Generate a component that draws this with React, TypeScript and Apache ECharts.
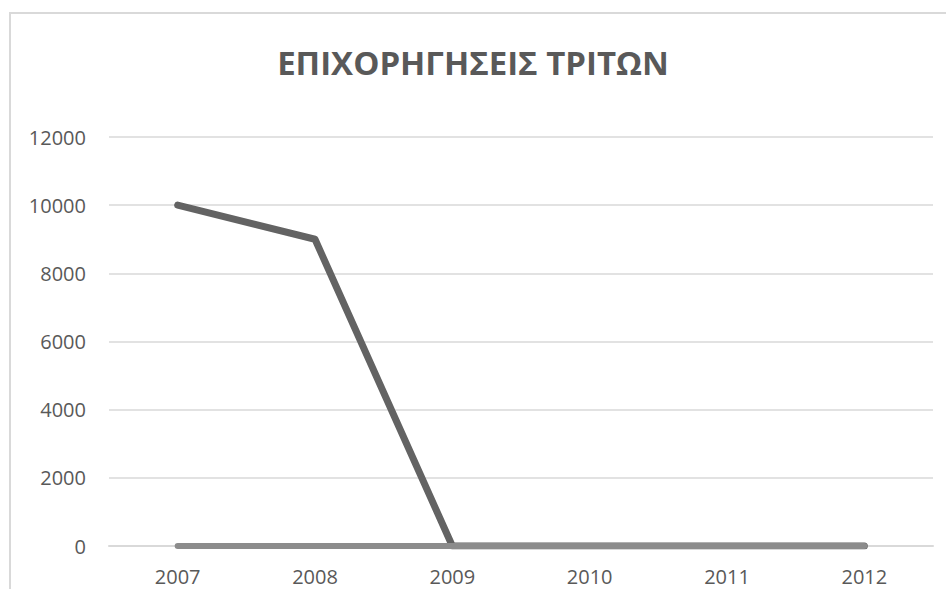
import React, { useEffect, useRef } from "react";
import * as echarts from "echarts";

const title = "ΕΠΙΧΟΡΗΓΗΣΕΙΣ ΤΡΙΤΩΝ";
const categories = ["2007", "2008", "2009", "2010", "2011", "2012"];
const seriesA = [10000, 9000, 0, 0, 0, 0];
const seriesB = [0, 0, 0, 0, 0, 0];
const yMin = 0;
const yMax = 12000;
const yStep = 2000;

export default function App() {
  const ref = useRef<HTMLDivElement>(null);
  useEffect(() => {
    document.body.style.margin = "0";
    const chart = echarts.init(ref.current!, null, { renderer: "svg" });
    const font = "'Open Sans', 'Liberation Sans', sans-serif";
    chart.setOption({
      animation: false,
      backgroundColor: "#ffffff",
      title: {
        text: title,
        left: "center",
        top: 41,
        textStyle: { fontFamily: font, fontSize: 33, fontWeight: "bold", color: "#595959" },
      },
      graphic: [
        {
          type: "rect",
          shape: { x: 10, y: 13, width: 1000, height: 1000 },
          style: { fill: "none", stroke: "#d9d9d9", lineWidth: 2 },
          silent: true,
        },
      ],
      grid: { left: 109, right: 13, top: 137, bottom: 43 },
      xAxis: {
        type: "category",
        data: categories,
        boundaryGap: true,
        axisLine: { show: true, lineStyle: { color: "#d9d9d9", width: 2 } },
        axisTick: { show: false },
        axisLabel: { color: "#595959", fontSize: 20, fontFamily: font, margin: 20 },
      },
      yAxis: {
        type: "value",
        min: yMin,
        max: yMax,
        interval: yStep,
        axisLine: { show: false },
        axisTick: { show: false },
        splitLine: { lineStyle: { color: "#d9d9d9", width: 1.5 } },
        axisLabel: {
          color: "#595959",
          fontSize: 20,
          fontFamily: font,
          margin: 23,
          formatter: (v: number) => String(v),
        },
      },
      series: [
        {
          type: "line",
          data: seriesA,
          symbol: "none",
          lineStyle: { color: "#636363", width: 7, cap: "round", join: "round" },
          z: 2,
        },
        {
          type: "line",
          data: seriesB,
          symbol: "none",
          lineStyle: { color: "#8c8c8c", width: 6, cap: "round", join: "round" },
          z: 3,
        },
      ],
    });
    return () => chart.dispose();
  }, []);
  return (
    <div
      ref={ref}
      style={{ position: "fixed", left: 0, top: 0, width: 946, height: 589 }}
    />
  );
}
